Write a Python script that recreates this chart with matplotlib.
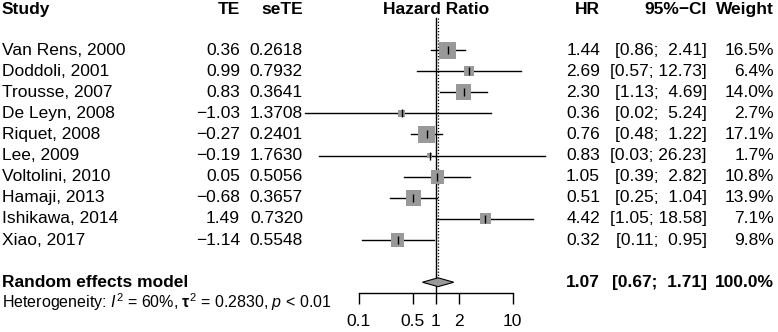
# Forest plot (random effects meta-analysis of hazard ratios)

import numpy as np
import matplotlib
matplotlib.use("Agg")
import matplotlib.pyplot as plt
from matplotlib.transforms import blended_transform_factory

plt.rcParams['font.family'] = ['Liberation Sans', 'DejaVu Sans']
plt.rcParams['mathtext.fontset'] = 'custom'
plt.rcParams['mathtext.rm'] = 'Liberation Sans'
plt.rcParams['mathtext.it'] = 'Liberation Sans:italic'
plt.rcParams['mathtext.bf'] = 'Liberation Sans:bold'

# Data
studies = ["Van Rens, 2000", "Doddoli, 2001", "Trousse, 2007", "De Leyn, 2008",
           "Riquet, 2008", "Lee, 2009", "Voltolini, 2010", "Hamaji, 2013",
           "Ishikawa, 2014", "Xiao, 2017"]
te = [0.36, 0.99, 0.83, -1.03, -0.27, -0.19, 0.05, -0.68, 1.49, -1.14]
se_te = [0.2618, 0.7932, 0.3641, 1.3708, 0.2401, 1.7630, 0.5056, 0.3657, 0.7320, 0.5548]
hr = [1.44, 2.69, 2.30, 0.36, 0.76, 0.83, 1.05, 0.51, 4.42, 0.32]
ci_low = [0.86, 0.57, 1.13, 0.02, 0.48, 0.03, 0.39, 0.25, 1.05, 0.11]
ci_high = [2.41, 12.73, 4.69, 5.24, 1.22, 26.23, 2.82, 1.04, 18.58, 0.95]
weight = [16.5, 6.4, 14.0, 2.7, 17.1, 1.7, 10.8, 13.9, 7.1, 9.8]

re_hr = 1.07
re_low = 0.67
re_high = 1.71
re_weight = 100.0
het_text = r"Heterogeneity: $\mathit{I}^2$ = 60%, $\mathbf{\tau}^2$ = 0.2830, $\mathit{p}$ < 0.01"

ticks = [0.1, 0.5, 1, 2, 10]
tick_labels = ["0.1", "0.5", "1", "2", "10"]

# Layout (pixels of a 778 x 332 figure)
W, H = 778, 332
fs = 12.5
rows = np.arange(len(studies)) + 2
re_row = rows[-1] + 2
het_row = re_row + 1
axis_row = re_row + 0.5

fig = plt.figure(figsize=(W / 100, H / 100), dpi=100)
# x: 0.01 -> 282.2 px, 100 -> 589.4 px ; y: row index, 7.8 px + 21.11 px per row
ax = fig.add_axes([282.2 / W, 0, 307.2 / W, 1])
ax.set_xscale('log')
ax.set_xlim(0.01, 100)
ax.set_ylim((H - 7.8) / 21.11, -7.8 / 21.11)
ax.patch.set_visible(False)

# reference lines
ax.plot([1, 1], [0.5, axis_row], color='black', lw=1.0)
ax.plot([re_hr, re_hr], [0.5, re_row - 0.21], color='black', lw=0.9, ls=(0, (1, 1.5)))

# study estimates
for i in range(len(studies)):
    ax.plot([ci_low[i], ci_high[i]], [rows[i], rows[i]], color='black', lw=1.0, zorder=2)
ax.scatter(hr, rows, marker='s', s=np.array(weight) * 9.1, color='#999999',
           edgecolors='none', zorder=3)
ax.scatter(hr, rows, marker='|', s=28, color='black', linewidths=1.0, zorder=4)

# pooled diamond
ax.fill([re_low, re_hr, re_high, re_hr], [re_row, re_row - 0.21, re_row, re_row + 0.21],
        facecolor='#999999', edgecolor='black', lw=0.8, zorder=3)

# x axis
for side in ['top', 'left', 'right']:
    ax.spines[side].set_visible(False)
ax.spines['bottom'].set_position(('data', axis_row))
ax.spines['bottom'].set_bounds(ticks[0], ticks[-1])
ax.spines['bottom'].set_linewidth(1.0)
ax.set_xticks(ticks)
ax.set_xticklabels(tick_labels, fontsize=fs)
ax.xaxis.set_minor_locator(matplotlib.ticker.NullLocator())
ax.tick_params(axis='x', direction='out', length=8, width=1.0, pad=7)
ax.set_yticks([])

# text columns
tr = blended_transform_factory(fig.transFigure, ax.transData)
def px(x):
    return x / W

def minus(v, fmt):
    return (fmt % v).replace('-', '\u2212')

hdr = dict(fontsize=fs, fontweight='bold', va='center', transform=tr)
hy = 0.1
ax.text(px(2), hy, "Study", ha='left', **hdr)
ax.text(px(240), hy, "TE", ha='right', **hdr)
ax.text(px(303), hy, "seTE", ha='right', **hdr)
ax.text(px(436.5), hy, "Hazard Ratio", ha='center', **hdr)
ax.text(px(600), hy, "HR", ha='right', **hdr)
ax.text(px(707), hy, "95%\u2212CI", ha='right', **hdr)
ax.text(px(774), hy, "Weight", ha='right', **hdr)

txt = dict(fontsize=fs, va='center', transform=tr)
for i, r in enumerate(rows):
    ax.text(px(2), r, studies[i], ha='left', **txt)
    ax.text(px(240), r, minus(te[i], '%.2f'), ha='right', **txt)
    ax.text(px(303), r, '%.4f' % se_te[i], ha='right', **txt)
    ax.text(px(600), r, '%.2f' % hr[i], ha='right', **txt)
    ax.text(px(707), r, '[%.2f; %5.2f]' % (ci_low[i], ci_high[i]), ha='right', **txt)
    ax.text(px(774), r, '%.1f%%' % weight[i], ha='right', **txt)

bold = dict(fontsize=fs, fontweight='bold', va='center', transform=tr)
ax.text(px(2), re_row, "Random effects model", ha='left', **bold)
ax.text(px(600), re_row, '%.2f' % re_hr, ha='right', **bold)
ax.text(px(707), re_row, '[%.2f; %5.2f]' % (re_low, re_high), ha='right', **bold)
ax.text(px(774), re_row, '%.1f%%' % re_weight, ha='right', **bold)

ax.text(px(2), het_row - 0.05, het_text, ha='left', va='center', fontsize=11.5, transform=tr)

plt.savefig('out.png', dpi=100)
